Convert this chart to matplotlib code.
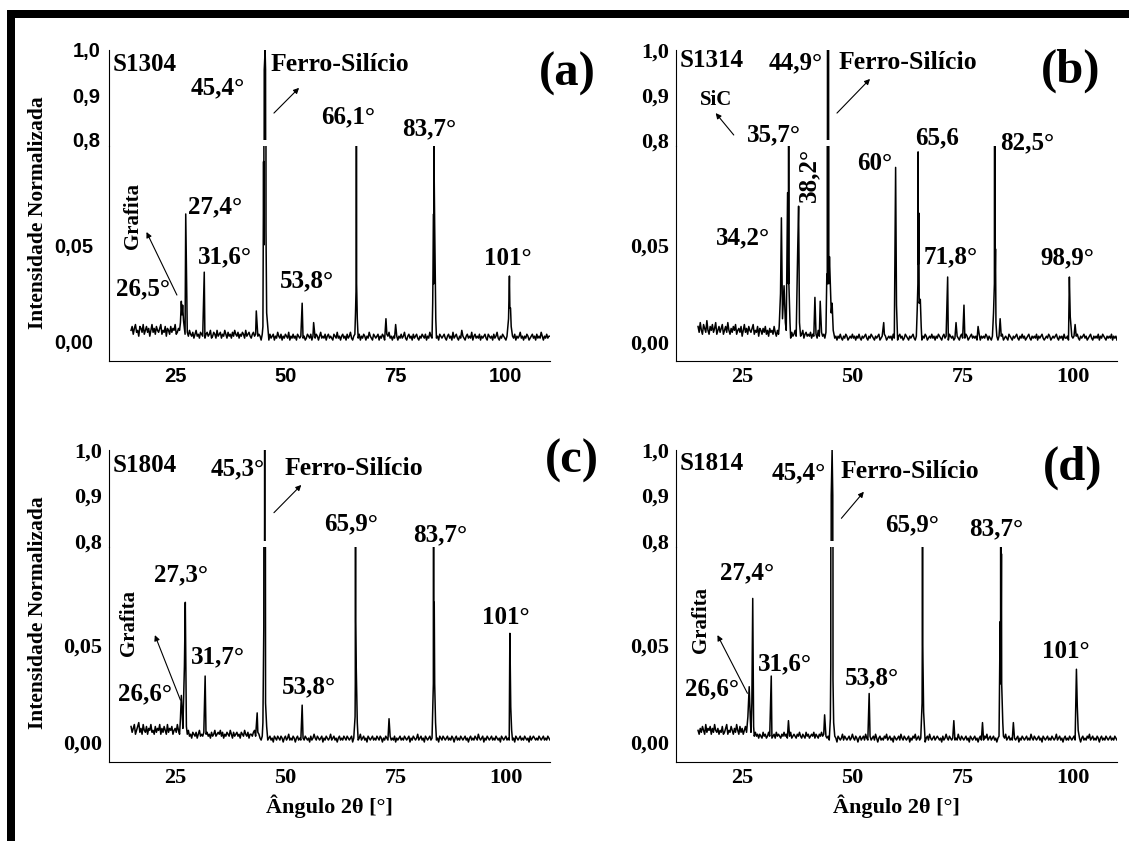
import numpy as np
import matplotlib
matplotlib.use('Agg')
import matplotlib.pyplot as plt
from matplotlib.patches import Rectangle

plt.rcParams['font.family'] = ['Liberation Serif', 'DejaVu Serif']
plt.rcParams['font.weight'] = 'bold'

# background of each pattern, units of 0.001, one value every 0.25 deg from 15 deg
bg_a = [6, 8, 4, 7, 9, 5, 6, 3, 8, 7, 5, 9, 4, 6, 8, 5, 7, 3, 6, 9, 5, 7, 4, 8, 6,
        5, 7, 9, 4, 6, 5, 8, 3, 7, 6, 4, 8, 5, 7, 6, 9, 4, 5, 7, 6, 3, 8, 5, 6,
        4, 2, 5, 3, 6, 4, 3, 5, 2, 4, 6, 3, 4, 2, 5, 4, 3, 6, 2, 4, 5, 3, 4, 6, 2, 3, 5, 4, 2, 6,
        3, 4, 5, 2, 4, 3, 6, 4, 2, 5, 3, 4, 2, 5, 3, 6, 4, 3, 5, 2, 4, 3, 5, 4, 2, 6, 3, 4, 5, 3,
        2, 4, 5, 3, 4, 6, 3, 4,
        3, 1, 4, 2, 3, 5, 2, 3, 1, 4, 2, 3, 4, 1, 3, 2, 5, 3, 2, 4, 1, 3, 2, 4, 3, 2, 5, 1, 3, 2,
        4, 2, 3, 1, 4, 3, 2, 3, 5, 2, 3, 1, 2, 4, 3, 2, 4, 1, 3, 3, 2, 4, 3, 1, 3, 5, 2, 3, 2, 4,
        1, 3, 4, 2, 3, 2, 1, 4, 3, 2, 5, 2, 3, 1, 3, 4, 2, 3, 1, 4, 2, 3, 5, 2, 1, 3, 4, 2, 3, 2,
        4, 1, 3, 2, 4, 3, 1, 3, 2, 5, 3, 2, 1, 4, 3, 2, 3, 4, 1, 3, 2, 4, 3, 1, 2, 4, 3, 5, 2, 3,
        1, 3, 2, 4, 3, 1, 3, 2, 4, 2, 3, 5, 2, 1, 3, 4, 2, 3, 1, 4, 2, 3, 4, 2, 1, 3, 2, 4, 3, 2,
        4, 1, 3, 2, 5, 3, 2, 1, 3, 4, 2, 3, 1, 4, 3, 2, 3, 4, 2, 1, 3, 4, 2, 3, 1, 5, 2, 3, 4, 2,
        1, 3, 2, 4, 3, 2, 1, 3, 4, 2, 3, 2, 5, 1, 3, 4, 2, 3, 2, 4, 1, 3, 2, 3, 4, 2, 1, 4, 3, 2,
        3, 1, 4, 2, 3, 5, 2, 1, 3, 2, 4, 3, 2, 1, 3, 2, 4, 3, 1, 3, 2, 4, 1, 3, 2, 3, 5, 2, 3, 1,
        3, 2, 4, 3, 1, 2, 3, 4, 2, 3, 1, 4, 2, 3, 2, 5, 3, 1, 3, 2, 4, 2, 3, 3]
bg_b = [8, 5, 10, 6, 4, 9, 7, 5, 11, 6, 4, 8, 6, 9, 5, 7, 10, 4, 6, 8, 5, 7, 9, 4, 6,
        8, 5, 10, 6, 4, 7, 5, 8, 6, 9, 4, 6, 7, 5, 8, 3, 6, 9, 5, 7, 4, 8, 6, 5, 7,
        9, 4, 6, 5, 8, 3, 7, 6, 4, 7, 5, 8, 4, 6, 3, 7, 5, 6, 4, 8, 5, 3, 6, 4, 7,
        4, 3, 5, 2, 4, 6, 3, 5, 4, 2, 5, 3, 4, 6, 3, 4, 2, 5, 3, 4, 6, 2, 4, 5, 3,
        4, 3, 5, 2, 4, 3, 5, 4, 2, 6, 3, 4, 5, 3, 4, 2, 5, 3, 4, 6, 3, 4, 2, 5,
        2, 3, 1, 3, 2, 4, 2, 1, 3, 2, 4, 3, 1, 2, 3, 2, 4, 2, 3, 1, 3, 2, 4, 2, 1, 3, 2, 3, 4, 2,
        1, 3, 2, 4, 3, 2, 1, 3, 2, 3, 4, 1, 2, 3, 2, 4, 3, 1, 2, 3, 2, 3, 1, 4, 2, 3, 2, 1, 3, 4,
        2, 3, 1, 2, 4, 3, 2, 1, 3, 2, 3, 4, 2, 1, 3, 2, 3, 2, 4, 1, 3, 2, 4, 3, 1, 2, 3, 2, 4, 2,
        3, 1, 3, 2, 4, 3, 2, 1, 3, 4, 2, 3, 2, 1, 4, 3, 2, 3, 1, 2, 4, 3, 2, 1, 3, 4, 2, 3, 2, 4,
        3, 1, 2, 3, 4, 2, 3, 2, 3, 1, 2, 4, 1, 3, 2, 3, 2, 4, 3, 1, 3, 2, 1, 3, 2, 4, 2, 3, 1, 3,
        2, 3, 4, 1, 2, 3, 2, 1, 4, 3, 2, 1, 3, 2, 3, 4, 2, 1, 3, 2, 4, 2, 3, 1, 2, 3, 4, 2, 1, 3,
        2, 3, 2, 4, 1, 3, 2, 3, 4, 2, 1, 2, 3, 2, 4, 3, 1, 2, 3, 2, 3, 4, 2, 1, 3, 2, 3, 1, 4, 2,
        2, 3, 1, 2, 4, 3, 2, 3, 1, 3, 4, 2, 1, 3, 2, 3, 4, 2, 3, 1, 2, 3, 4, 2, 1, 3, 2, 3, 2, 4,
        1, 3, 2, 4, 3, 2, 1, 3, 2, 3, 2, 4, 1, 3, 2, 3, 1]
bg_c = [8, 5, 7, 9, 4, 6, 8, 10, 5, 7, 4, 9, 6, 5, 8, 4, 7, 6, 9, 5, 6, 4, 8, 5, 7,
        6, 9, 4, 7, 5, 8, 6, 4, 9, 5, 7, 6, 8, 4, 6, 7, 5, 9, 6, 4, 8, 5, 7, 6,
        5, 3, 4, 6, 3, 4, 2, 5, 4, 3, 5, 2, 4, 6, 3, 4, 3, 5, 2, 4, 5, 3, 4, 2, 5, 3, 4, 6, 3, 4,
        5, 4, 6, 3, 5, 2, 4, 3, 5, 4, 3, 6, 4, 2, 5, 3, 4, 5, 3, 4, 2, 5, 4, 3, 6, 4, 3, 5, 2, 4,
        4, 3, 5, 6, 3, 4, 5, 4,
        2, 1, 3, 2, 0, 2, 3, 1, 2, 3, 1, 2, 0, 3, 2, 1, 3, 2, 1, 3, 2, 0, 2, 3, 1, 2, 4, 1, 2, 1,
        3, 2, 0, 2, 3, 1, 2, 1, 3, 2, 1, 3, 2, 1, 2, 0, 3, 1, 2, 4, 2, 1, 3, 2, 1, 2, 3, 0, 2, 1,
        3, 2, 1, 2, 4, 1, 2, 3, 1, 2, 0, 2, 3, 1, 2, 1, 3, 2, 1, 3, 2, 1, 2, 3, 0, 2, 1, 3, 2, 1,
        2, 4, 1, 2, 3, 1, 2, 0, 3, 2, 1, 2, 3, 1, 2, 1, 3, 2, 1, 3, 2, 0, 2, 1, 3, 2, 1, 2, 3, 1,
        2, 1, 3, 0, 2, 1, 2, 3, 1, 2, 1, 3, 2, 1, 2, 3, 0, 2, 1, 3, 2, 1, 2, 4, 1, 2, 3, 1, 2, 0,
        3, 2, 1, 2, 3, 1, 2, 1, 3, 2, 1, 2, 0, 3, 2, 1, 3, 2, 1, 2, 3, 1, 2, 1, 3, 2, 0, 2, 3, 1,
        2, 1, 3, 2, 1, 2, 3, 1, 2, 0, 2, 3, 1, 2, 1, 3, 2, 1, 4, 2, 1, 2, 3, 0, 2, 1, 3, 2, 1, 2,
        3, 1, 2, 1, 3, 2, 1, 2, 0, 3, 2, 1, 2, 3, 1, 2, 1, 3, 2, 1, 2, 0, 3, 2, 1, 2, 3, 1, 2, 1,
        3, 2, 1, 2, 0, 3, 1, 2, 3, 2, 1, 2, 1, 3, 2, 1, 2, 3, 1, 2, 1, 3, 2, 1]
bg_d = [6, 4, 7, 5, 8, 6, 4, 9, 5, 7, 6, 8, 4, 7, 5, 9, 6, 5, 7, 4, 6, 5, 8, 4, 5,
        7, 9, 4, 6, 5, 8, 6, 4, 7, 5, 9, 6, 4, 8, 5, 7, 4, 6, 8, 5, 7, 4, 6, 5,
        4, 2, 3, 5, 3, 4, 2, 4, 3, 2, 5, 3, 4, 2, 3, 5, 3, 4, 2, 3, 4, 2, 5, 3, 4, 3, 2, 4, 3, 5,
        3, 4, 2, 4, 3, 5, 2, 3, 4, 3, 2, 4, 3, 5, 3, 2, 4, 3, 2, 5, 3, 4, 2, 3, 4, 3, 5, 2, 4, 3,
        2, 4, 3, 5, 3, 4, 2, 3,
        2, 3, 1, 2, 4, 2, 1, 3, 2, 0, 3, 2, 1, 2, 4, 1, 3, 2, 1, 2, 3, 1, 2, 4, 2, 1, 3, 2, 0, 2,
        3, 1, 2, 3, 1, 4, 2, 1, 2, 3, 1, 2, 3, 1, 4, 2, 0, 2, 3, 1, 2, 1, 3, 2, 4, 1, 2, 3, 1, 2,
        0, 3, 2, 1, 2, 3, 1, 4, 2, 1, 3, 2, 1, 2, 3, 0, 2, 1, 3, 2, 4, 1, 2, 3, 1, 2, 1, 3, 2, 0,
        2, 3, 1, 4, 2, 1, 2, 3, 1, 2, 3, 2, 1, 2, 0, 3, 1, 2, 4, 2, 1, 3, 2, 1, 2, 3, 1, 2, 1, 4,
        2, 1, 3, 2, 1, 2, 3, 1, 2, 0, 3, 2, 1, 2, 3, 1, 2, 0, 2, 3, 1, 2, 1, 3, 2, 4, 1, 2, 3, 1,
        2, 3, 1, 2, 0, 2, 3, 1, 2, 1, 3, 2, 4, 1, 2, 3, 1, 2, 1, 3, 2, 1, 2, 3, 0, 2, 1, 3, 2, 1,
        2, 3, 1, 2, 1, 4, 2, 1, 3, 2, 1, 2, 3, 1, 2, 0, 3, 2, 1, 2, 3, 1, 2, 1, 3, 2, 1, 2, 4, 1,
        2, 3, 1, 2, 0, 2, 3, 1, 2, 1, 3, 2, 1, 2, 3, 1, 2, 1, 3, 2, 0, 2, 3, 1, 2, 1, 3, 2, 4, 1,
        2, 3, 1, 2, 1, 3, 2, 0, 2, 3, 1, 2, 1, 3, 2, 1, 2, 3, 1, 2, 1, 3, 2, 1]

# peak points (2theta, normalised intensity)
peaks_a = [(26.2, 0.010), (26.4, 0.021), (26.55, 0.014), (26.7, 0.019), (26.9, 0.011),
           (27.4, 0.066), (31.6, 0.036), (43.4, 0.016),
           (44.9, 0.008), (45.05, 0.093), (45.12, 0.05), (45.2, 0.956), (45.4, 1.0),
           (45.5, 0.956), (45.6, 0.057), (45.75, 0.015), (46.0, 0.008),
           (53.8, 0.020), (56.4, 0.010),
           (65.9, 0.015), (66.05, 0.03), (66.1, 0.5), (66.15, 0.03), (66.3, 0.012),
           (72.8, 0.012), (75.0, 0.009),
           (83.4, 0.020), (83.6, 0.066), (83.65, 0.03), (83.7, 0.5), (83.75, 0.083),
           (83.85, 0.06), (84.1, 0.012), (90.0, 0.006),
           (100.6, 0.012), (100.8, 0.034), (100.9, 0.0175), (101.05, 0.0175), (101.2, 0.008)]
peaks_b = [(33.4, 0.008), (33.7, 0.025), (33.9, 0.064), (34.15, 0.012), (34.5, 0.029),
           (34.8, 0.010), (35.3, 0.077), (35.5, 0.03), (35.55, 0.5), (35.6, 0.03),
           (35.85, 0.010), (37.6, 0.048), (37.8, 0.070), (38.0, 0.010),
           (41.5, 0.023), (42.7, 0.021),
           (44.2, 0.035), (44.3, 0.03), (44.35, 1.0), (44.6, 1.0), (44.65, 0.03),
           (44.8, 0.044), (45.0, 0.03), (45.2, 0.015), (45.4, 0.02), (45.65, 0.006),
           (57.1, 0.010), (59.8, 0.090), (60.0, 0.019),
           (64.7, 0.017), (64.85, 0.03), (64.9, 0.098), (64.95, 0.04), (65.05, 0.0665),
           (65.15, 0.02), (65.4, 0.022), (65.6, 0.008),
           (71.6, 0.0335), (73.5, 0.010), (75.3, 0.019), (78.5, 0.008),
           (82.0, 0.015), (82.2, 0.03), (82.3, 0.5), (82.35, 0.03), (82.45, 0.048),
           (82.55, 0.010), (83.5, 0.012),
           (99.2, 0.0335), (99.4, 0.013), (100.5, 0.009)]
peaks_c = [(26.2, 0.012), (26.4, 0.024), (26.6, 0.015), (27.1, 0.039), (27.3, 0.072),
           (27.55, 0.008), (31.8, 0.034), (43.6, 0.015),
           (44.9, 0.01), (45.1, 0.059), (45.2, 0.3), (45.3, 1.0), (45.4, 0.3),
           (45.5, 0.02), (45.75, 0.008), (53.8, 0.019),
           (65.8, 0.013), (65.85, 0.03), (65.9, 0.5), (65.95, 0.062), (66.05, 0.04),
           (66.3, 0.01), (73.5, 0.012),
           (83.4, 0.015), (83.55, 0.03), (83.6, 0.5), (83.65, 0.033), (83.75, 0.072),
           (83.85, 0.03), (84.05, 0.01),
           (100.9, 0.056), (101.1, 0.018), (101.3, 0.006)]
peaks_d = [(26.3, 0.013), (26.6, 0.0285), (26.85, 0.012), (27.2, 0.02), (27.4, 0.074),
           (27.6, 0.008), (31.6, 0.034), (35.5, 0.011), (43.7, 0.014),
           (45.0, 0.012), (45.1, 0.04), (45.15, 0.5), (45.2, 0.9), (45.4, 1.0),
           (45.55, 0.9), (45.6, 0.032), (45.75, 0.01), (53.8, 0.025),
           (65.8, 0.02), (65.85, 0.05), (65.9, 0.5), (65.95, 0.05), (66.15, 0.0155),
           (73.0, 0.011), (79.5, 0.010),
           (83.5, 0.062), (83.6, 0.03), (83.65, 0.5), (83.7, 0.04), (83.8, 0.097),
           (83.85, 0.03), (84.1, 0.01), (86.5, 0.010),
           (100.8, 0.0375), (101.0, 0.018), (101.2, 0.006)]

samples = ['S1304', 'S1314', 'S1804', 'S1814']
letters = ['(a)', '(b)', '(c)', '(d)']

labels_a = ['26,5°', '27,4°', '31,6°', '45,4°', '53,8°', '66,1°', '83,7°', '101°']
labels_b = ['34,2°', '35,7°', '38,2°', '44,9°', '60°', '65,6', '71,8°', '82,5°', '98,9°']
labels_c = ['26,6°', '27,3°', '31,7°', '45,3°', '53,8°', '65,9°', '83,7°', '101°']
labels_d = ['26,6°', '27,4°', '31,6°', '45,4°', '53,8°', '65,9°', '83,7°', '101°']

# --- layout (text positions in lower-axis data coords) ---
lab_xy_a = [(17.8, 0.0273), (34.0, 0.0696), (36.2, 0.0438), (34.6, 0.131),
            (54.9, 0.0314), (64.3, 0.116), (82.6, 0.110), (100.4, 0.0428)]
lab_xy_b = [(25.2, 0.0536), (32.2, 0.1067), (40.1, 0.086), (37.2, 0.144), (55.0, 0.0918),
            (69.3, 0.105), (72.2, 0.0438), (89.6, 0.1026), (98.7, 0.0433)]
lab_xy_c = [(18.1, 0.0247), (26.4, 0.0861), (34.7, 0.044), (39.1, 0.1407),
            (55.4, 0.0282), (64.9, 0.1127), (85.2, 0.1067), (100.0, 0.0643)]
lab_xy_d = [(18.2, 0.0273), (26.2, 0.087), (34.6, 0.0402), (37.9, 0.139),
            (54.4, 0.0333), (63.5, 0.1119), (82.5, 0.1098), (98.5, 0.0467)]

W, H = 1129, 841
fig = plt.figure(figsize=(W / 100, H / 100), dpi=100)

# frame lines of the original figure
fig.add_artist(Rectangle((7 / W, 1 - 18 / H), 1 - 7 / W, 8 / H, transform=fig.transFigure,
                         color='black', lw=0))
fig.add_artist(Rectangle((7 / W, 0), 8 / W, 1 - 10 / H, transform=fig.transFigure,
                         color='black', lw=0))

# left px, upper top, upper bottom, lower top, lower bottom, px of y=0
layout = [(109, 50, 140, 146, 361, 342), (676, 50, 140, 146, 361, 342),
          (109, 450, 541, 547, 762, 742), (676, 450, 541, 547, 762, 742)]
px_per_unit = 1940.0

panels = [
    dict(bg=bg_a, pk=peaks_a, labs=labels_a, xy=lab_xy_a, ferro=(46.6, 0.143),
         farrow=((47.4, 0.118), (53.1, 0.131)), side=('Grafita', (15.4, 0.065), 90),
         sarrow=((25.4, 0.0242), (18.5, 0.0567)), sname=0.143, letter=(114, 0.138),
         sans=True, ylab=True, xlab=False),
    dict(bg=bg_b, pk=peaks_b, labs=labels_b, xy=lab_xy_b, ferro=(46.8, 0.144),
         farrow=((46.5, 0.118), (54.0, 0.1356)), side=('SiC', (19.0, 0.1247), 0),
         sarrow=((23.1, 0.1067), (19.0, 0.118)), sname=0.145, letter=(99.5, 0.1397),
         sans=False, ylab=False, xlab=False),
    dict(bg=bg_c, pk=peaks_c, labs=labels_c, xy=lab_xy_c, ferro=(49.9, 0.141),
         farrow=((47.4, 0.1182), (53.6, 0.1325)), side=('Grafita', (14.6, 0.0613), 90),
         sarrow=((26.2, 0.0216), (20.4, 0.0551)), sname=0.1424, letter=(115, 0.1448),
         sans=False, ylab=True, xlab=True),
    dict(bg=bg_d, pk=peaks_d, labs=labels_d, xy=lab_xy_d, ferro=(47.3, 0.1393),
         farrow=((47.5, 0.1153), (52.6, 0.129)), side=('Grafita', (15.7, 0.0629), 90),
         sarrow=((26.2, 0.0251), (19.4, 0.0551)), sname=0.1438, letter=(100, 0.1415),
         sans=False, ylab=False, xlab=True),
]


def build(bg, pk):
    xb = 15.0 + 0.25 * np.arange(len(bg))
    yb = np.asarray(bg, float) * 0.001
    xp = np.array([p[0] for p in pk])
    yp = np.array([p[1] for p in pk])
    keep = np.array([np.min(np.abs(xp - v)) > 0.12 for v in xb])
    x = np.concatenate([xb[keep], xp])
    y = np.concatenate([yb[keep], yp])
    order = np.argsort(x, kind='stable')
    return x[order], y[order]


arrow_kw = dict(arrowstyle='-|>', lw=0.8, color='black', mutation_scale=8, shrinkA=0, shrinkB=0)

for i, p in enumerate(panels):
    left, t_up, b_up, t_lo, b_lo, zero = layout[i]
    ax_lo = fig.add_axes([left / W, 1 - b_lo / H, 441 / W, (b_lo - t_lo) / H])
    ax_up = fig.add_axes([left / W, 1 - b_up / H, 441 / W, (b_up - t_up) / H])
    x, y = build(p['bg'], p['pk'])
    for ax in (ax_lo, ax_up):
        ax.plot(x, y, color='black', lw=1.1)
        ax.set_xlim(10, 110)
        ax.patch.set_visible(False)
        ax.spines['top'].set_visible(False)
        ax.spines['right'].set_visible(False)
        ax.tick_params(length=0)
    ax_up.spines['bottom'].set_visible(False)
    ax_lo.set_ylim((zero - b_lo) / px_per_unit, (zero - t_lo) / px_per_unit)
    ax_up.set_ylim(0.8, 1.0)
    ax_up.spines['left'].set_bounds(0.8 - 0.2 * (t_lo - b_up) / (b_up - t_up), 1.0)

    if p['sans']:
        tf = dict(fontfamily='Liberation Sans', fontsize=14.5, fontweight='bold')
        pad_lo, pad_up = 11, 6
    else:
        tf = dict(fontfamily='Liberation Serif', fontsize=16, fontweight='bold')
        pad_lo, pad_up = 5, 5
    ax_lo.set_xticks([25, 50, 75, 100])
    ax_lo.set_xticklabels(['25', '50', '75', '100'], **tf)
    ax_lo.set_yticks([0.0, 0.05])
    ax_lo.set_yticklabels(['0,00', '0,05'], **tf)
    ax_up.set_xticks([])
    ax_up.set_yticks([0.8, 0.9, 1.0])
    ax_up.set_yticklabels(['0,8', '0,9', '1,0'], **tf)
    ax_lo.tick_params(axis='x', pad=4)
    ax_lo.tick_params(axis='y', pad=pad_lo)
    ax_up.tick_params(axis='y', pad=pad_up)

    if p['xlab']:
        ax_lo.set_xlabel('Ângulo 2θ [°]', fontsize=16, fontweight='bold', labelpad=5)
    if p['ylab']:
        fig.text(38 / W, 1 - (t_up + b_lo) / 2 / H - 0.008, 'Intensidade Normalizada',
                 rotation=90, ha='center', va='center', fontsize=15.5, fontweight='bold')

    for s, (tx, ty) in zip(p['labs'], p['xy']):
        rot = 90 if s == '38,2°' else 0
        ax_lo.text(tx, ty, s, ha='center', va='center', fontsize=18, rotation=rot)

    ax_lo.text(10.9, p['sname'], samples[i], ha='left', va='center', fontsize=18)
    ax_lo.text(p['ferro'][0], p['ferro'][1], 'Ferro-Silício', ha='left', va='center',
               fontsize=18.5)
    ax_lo.annotate('', xy=p['farrow'][1], xytext=p['farrow'][0], arrowprops=arrow_kw,
                   annotation_clip=False)
    name, (sx, sy), rot = p['side']
    ax_lo.text(sx, sy, name, ha='center', va='center', fontsize=15, rotation=rot)
    ax_lo.annotate('', xy=p['sarrow'][1], xytext=p['sarrow'][0], arrowprops=arrow_kw,
                   annotation_clip=False)
    ax_lo.text(p['letter'][0], p['letter'][1], letters[i], ha='center', va='center',
               fontsize=35)

fig.savefig('out.png', dpi=100)
